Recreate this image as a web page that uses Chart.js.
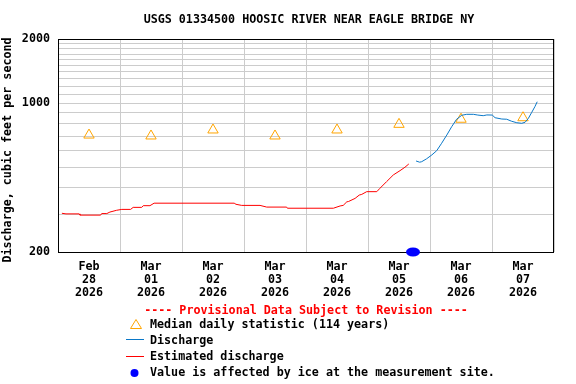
<!DOCTYPE html>
<html>
<head>
<meta charset="utf-8">
<script src="https://cdn.jsdelivr.net/npm/chart.js@4/dist/chart.umd.min.js"></script>
<style>
html, body { margin: 0; padding: 0; background: #fff; }
</style>
</head>
<body>
<canvas id="hydro" width="576" height="384"></canvas>
<script>
// hours counted from Feb 28 2026 00:00
const dayLabels = [
    ['Feb', '28', '2026'], ['Mar', '01', '2026'], ['Mar', '02', '2026'], ['Mar', '03', '2026'],
    ['Mar', '04', '2026'], ['Mar', '05', '2026'], ['Mar', '06', '2026'], ['Mar', '07', '2026']
]
const dayCount = 8

const medianHours = [12, 36, 60, 84, 108, 132, 156, 180]
const medianFlow = [708, 701, 748, 701, 748, 795, 840, 854]

const estHours = [1.5, 3.1, 8.2, 8.5, 16.5, 16.9, 18.9, 20.1, 22.7, 24.7, 28.1, 29.1, 32.4, 33.0, 35.6,
    37.2, 68.2, 68.9, 71.1, 78.2, 80.8, 88.5, 88.8, 106.6, 109.2, 110.4, 111.8, 112.4, 115.0, 116.6,
    117.6, 119.5, 123.4, 124.6, 127.2, 129.8, 132.4, 134.3, 135.8]
const estFlow = [304, 302, 302, 298, 298, 303, 303, 308, 314, 317, 317, 324, 324, 330, 330,
    339, 339, 335, 331, 331, 325, 325, 321, 321, 329, 331, 344, 345, 357, 370,
    373, 384, 384, 398, 428, 460, 482, 500, 518]

const qHours = [138.6, 140.0, 140.8, 142.7, 144.7, 146.6, 148.5, 150.5, 152.4, 154.3, 156.3, 158.2, 160.8,
    162.5, 164.6, 166.0, 168.1, 169.2, 171.8, 173.7, 175.6, 177.6, 179.5, 180.8, 182.1, 183.4, 184.6, 185.5]
const qFlow = [535, 528, 531, 548, 571, 598, 648, 708, 775, 840, 877, 886, 886,
    879, 873, 880, 879, 854, 842, 840, 822, 809, 804, 813, 849, 906, 962, 1015]

const iceHours = [137.4]
const iceFlow = [200]

const yTickValues = [200, 300, 400, 500, 600, 700, 800, 900, 1000, 1100, 1200, 1300, 1400, 1500,
    1600, 1700, 1800, 1900, 2000]
const yLabelled = [200, 1000, 2000]

const titleText = 'USGS 01334500 HOOSIC RIVER NEAR EAGLE BRIDGE NY'
const yTitleText = 'Discharge, cubic feet per second'
const provisionalText = '---- Provisional Data Subject to Revision ----'
const legendTexts = ['Median daily statistic (114 years)', 'Discharge', 'Estimated discharge',
    'Value is affected by ice at the measurement site.']

const FONT = "'DejaVu Sans Mono', monospace"
Chart.defaults.font.family = FONT
Chart.defaults.font.size = 11.7
Chart.defaults.font.weight = 'bold'
Chart.defaults.color = '#000'

const toPoints = (xs, ys) => xs.map((x, i) => ({x: x, y: ys[i]}))

// blue ellipse for the ice marker
const iceDot = document.createElement('canvas')
iceDot.width = 14
iceDot.height = 10
const ic = iceDot.getContext('2d')
ic.fillStyle = '#0000ff'
ic.beginPath()
ic.ellipse(7, 5, 7, 4.5, 0, 0, 2 * Math.PI)
ic.fill()

const usgsText = {
    id: 'usgsText',
    beforeDatasetsDraw(chart) {
        const {ctx, chartArea: a} = chart
        ctx.save()
        ctx.strokeStyle = '#000'
        ctx.lineWidth = 1
        ctx.strokeRect(Math.round(a.left) + 0.5, Math.round(a.top) + 0.5,
            Math.round(a.right - a.left) - 1, Math.round(a.bottom - a.top))
        ctx.restore()
    },
    afterDraw(chart) {
        const ctx = chart.ctx
        ctx.save()
        ctx.font = 'bold 11.7px ' + FONT
        ctx.textBaseline = 'middle'
        ctx.textAlign = 'center'
        ctx.fillStyle = '#000'
        ctx.fillText(titleText, 309, 20)

        ctx.save()
        ctx.translate(8, 150)
        ctx.rotate(-Math.PI / 2)
        ctx.fillText(yTitleText, 0, 0)
        ctx.restore()

        ctx.fillStyle = '#ff0000'
        ctx.fillText(provisionalText, 306, 311)

        ctx.textAlign = 'left'
        ctx.fillStyle = '#000'
        legendTexts.forEach((t, i) => ctx.fillText(t, 150, 325 + i * 16))

        // symbols
        ctx.strokeStyle = '#ffa500'
        ctx.lineWidth = 1
        ctx.beginPath()
        ctx.moveTo(136, 319.5)
        ctx.lineTo(141.5, 328.5)
        ctx.lineTo(130.5, 328.5)
        ctx.closePath()
        ctx.stroke()

        ctx.strokeStyle = '#0a78c8'
        ctx.beginPath()
        ctx.moveTo(126, 339.5)
        ctx.lineTo(144, 339.5)
        ctx.stroke()

        ctx.strokeStyle = '#ff0000'
        ctx.beginPath()
        ctx.moveTo(126, 356.5)
        ctx.lineTo(144, 356.5)
        ctx.stroke()

        ctx.fillStyle = '#0000ff'
        ctx.beginPath()
        ctx.arc(134.5, 373, 4, 0, 2 * Math.PI)
        ctx.fill()
        ctx.restore()
    }
}

new Chart(document.getElementById('hydro'), {
    type: 'line',
    data: {
        datasets: [
            {
                label: 'Estimated discharge',
                data: toPoints(estHours, estFlow),
                borderColor: '#ff0000',
                borderWidth: 1,
                pointRadius: 0,
                fill: false
            },
            {
                label: 'Discharge',
                data: toPoints(qHours, qFlow),
                borderColor: '#0a78c8',
                borderWidth: 1,
                pointRadius: 0,
                fill: false
            },
            {
                label: 'Median daily statistic (114 years)',
                data: toPoints(medianHours, medianFlow),
                showLine: false,
                pointStyle: 'triangle',
                pointRadius: 6,
                borderColor: '#ffa500',
                backgroundColor: 'rgba(0,0,0,0)',
                pointBorderWidth: 1
            },
            {
                label: 'Ice',
                data: toPoints(iceHours, iceFlow),
                showLine: false,
                pointStyle: iceDot,
                clip: false
            }
        ]
    },
    options: {
        responsive: false,
        animation: false,
        events: [],
        layout: {padding: {left: 0, right: 22, top: 39, bottom: 82}},
        plugins: {
            legend: {display: false},
            title: {display: false},
            tooltip: {enabled: false}
        },
        scales: {
            x: {
                type: 'linear',
                min: 0,
                max: dayCount * 24,
                afterBuildTicks: scale => {
                    const t = []
                    for (let h = 0; h <= dayCount * 24; h += 12) t.push({value: h})
                    scale.ticks = t
                },
                afterFit: scale => { scale.height = 50 },
                grid: {
                    color: c => (c.tick && c.tick.value % 24 === 0) ? '#cccccc' : 'rgba(0,0,0,0)',
                    drawTicks: false
                },
                border: {display: false},
                ticks: {
                    autoSkip: false,
                    maxRotation: 0,
                    padding: 8,
                    font: {lineHeight: '13.3px'},
                    callback: v => (v % 24 === 12) ? dayLabels[(v - 12) / 24] : ''
                }
            },
            y: {
                type: 'logarithmic',
                min: 200,
                max: 2000,
                afterBuildTicks: scale => {
                    scale.ticks = yTickValues.map(v => ({value: v}))
                },
                afterFit: scale => { scale.width = 58 },
                grid: {color: '#cccccc', drawTicks: false},
                border: {display: false},
                ticks: {
                    autoSkip: false,
                    padding: 8,
                    callback: v => yLabelled.includes(v) ? String(v) : ''
                }
            }
        }
    },
    plugins: [usgsText]
})
</script>
</body>
</html>
